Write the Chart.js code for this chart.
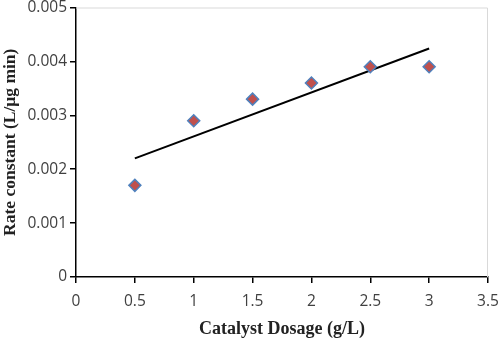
<!DOCTYPE html>
<html><head><meta charset="utf-8">
<script src="https://cdn.jsdelivr.net/npm/chart.js@4/dist/chart.umd.min.js"></script>
<style>html,body{margin:0;padding:0;background:#fff}#wrap{width:500px;height:340px}</style>
</head><body><div id="wrap"><canvas id="c" width="500" height="340"></canvas></div>
<script>
const dosage = [0.5, 1, 1.5, 2, 2.5, 3];
const rateConstant = [0.0017, 0.0029, 0.0033, 0.0036, 0.0039, 0.0039];
const trendX = [0.5, 3];
const trendY = [0.0022, 0.00424];
const xTickLabels = ['0','0.5','1','1.5','2','2.5','3','3.5'];
const yTickLabels = ['0','0.001','0.002','0.003','0.004','0.005'];

const frame = {
  id: 'frame',
  afterDraw(chart) {
    const a = chart.chartArea, ctx = chart.ctx;
    ctx.save();
    ctx.strokeStyle = '#d9d9d9';
    ctx.lineWidth = 1;
    ctx.beginPath();
    ctx.moveTo(a.left, a.top + 0.5);
    ctx.lineTo(a.right - 0.5, a.top + 0.5);
    ctx.lineTo(a.right - 0.5, a.bottom);
    ctx.stroke();
    ctx.restore();
  }
};

new Chart(document.getElementById('c'), {
  type: 'scatter',
  data: {
    datasets: [
      {
        data: dosage.map((x, i) => ({x, y: rateConstant[i]})),
        pointStyle: 'rectRot',
        pointRadius: 6,
        backgroundColor: '#c0504d',
        borderColor: '#4f81bd',
        borderWidth: 1.5,
        order: 1
      },
      {
        type: 'line',
        data: trendX.map((x, i) => ({x, y: trendY[i]})),
        borderColor: '#000',
        borderWidth: 2,
        pointRadius: 0,
        fill: false,
        order: 2
      }
    ]
  },
  options: {
    responsive: false,
    animation: false,
    devicePixelRatio: 1,
    layout: {padding: {top: 5, right: 12, left: 0, bottom: 0}},
    plugins: {legend: {display: false}, tooltip: {enabled: false}},
    scales: {
      x: {
        type: 'linear', min: 0, max: 3.5,
        afterBuildTicks(axis) { axis.ticks = xTickLabels.map(v => ({value: parseFloat(v)})); },
        afterFit(axis) { axis.height = 63; axis.paddingRight = 0; axis.paddingLeft = 0; },
        border: {color: '#000', width: 1.5},
        grid: {drawOnChartArea: false, drawTicks: true, tickLength: 6, color: '#000', lineWidth: 1.5},
        ticks: {
          color: '#404040', padding: 9,
          font: {family: 'Open Sans', size: 15.5},
          maxRotation: 0,
          callback: (v, i) => xTickLabels[i]
        },
        title: {display: true, text: 'Catalyst Dosage (g/L)', color: '#222',
          font: {family: 'Liberation Serif', size: 18, weight: 'bold'}, padding: {top: 4, bottom: 0}}
      },
      y: {
        type: 'linear', min: 0, max: 0.005,
        afterBuildTicks(axis) { axis.ticks = yTickLabels.map(v => ({value: parseFloat(v)})); },
        afterFit(axis) { axis.width = 76; axis.paddingTop = 0; axis.paddingBottom = 0; },
        border: {color: '#000', width: 1.5},
        grid: {drawOnChartArea: false, drawTicks: true, tickLength: 6, color: '#000', lineWidth: 1.5},
        ticks: {
          color: '#404040', padding: 3,
          font: {family: 'Open Sans', size: 15.5},
          callback: (v, i) => yTickLabels[i]
        },
        title: {display: true, text: 'Rate constant (L/μg min)', color: '#222',
          font: {family: 'Liberation Serif', size: 17.5, weight: 'bold'}, padding: {top: 0, bottom: 0}}
      }
    }
  },
  plugins: [frame]
});
</script></body></html>
